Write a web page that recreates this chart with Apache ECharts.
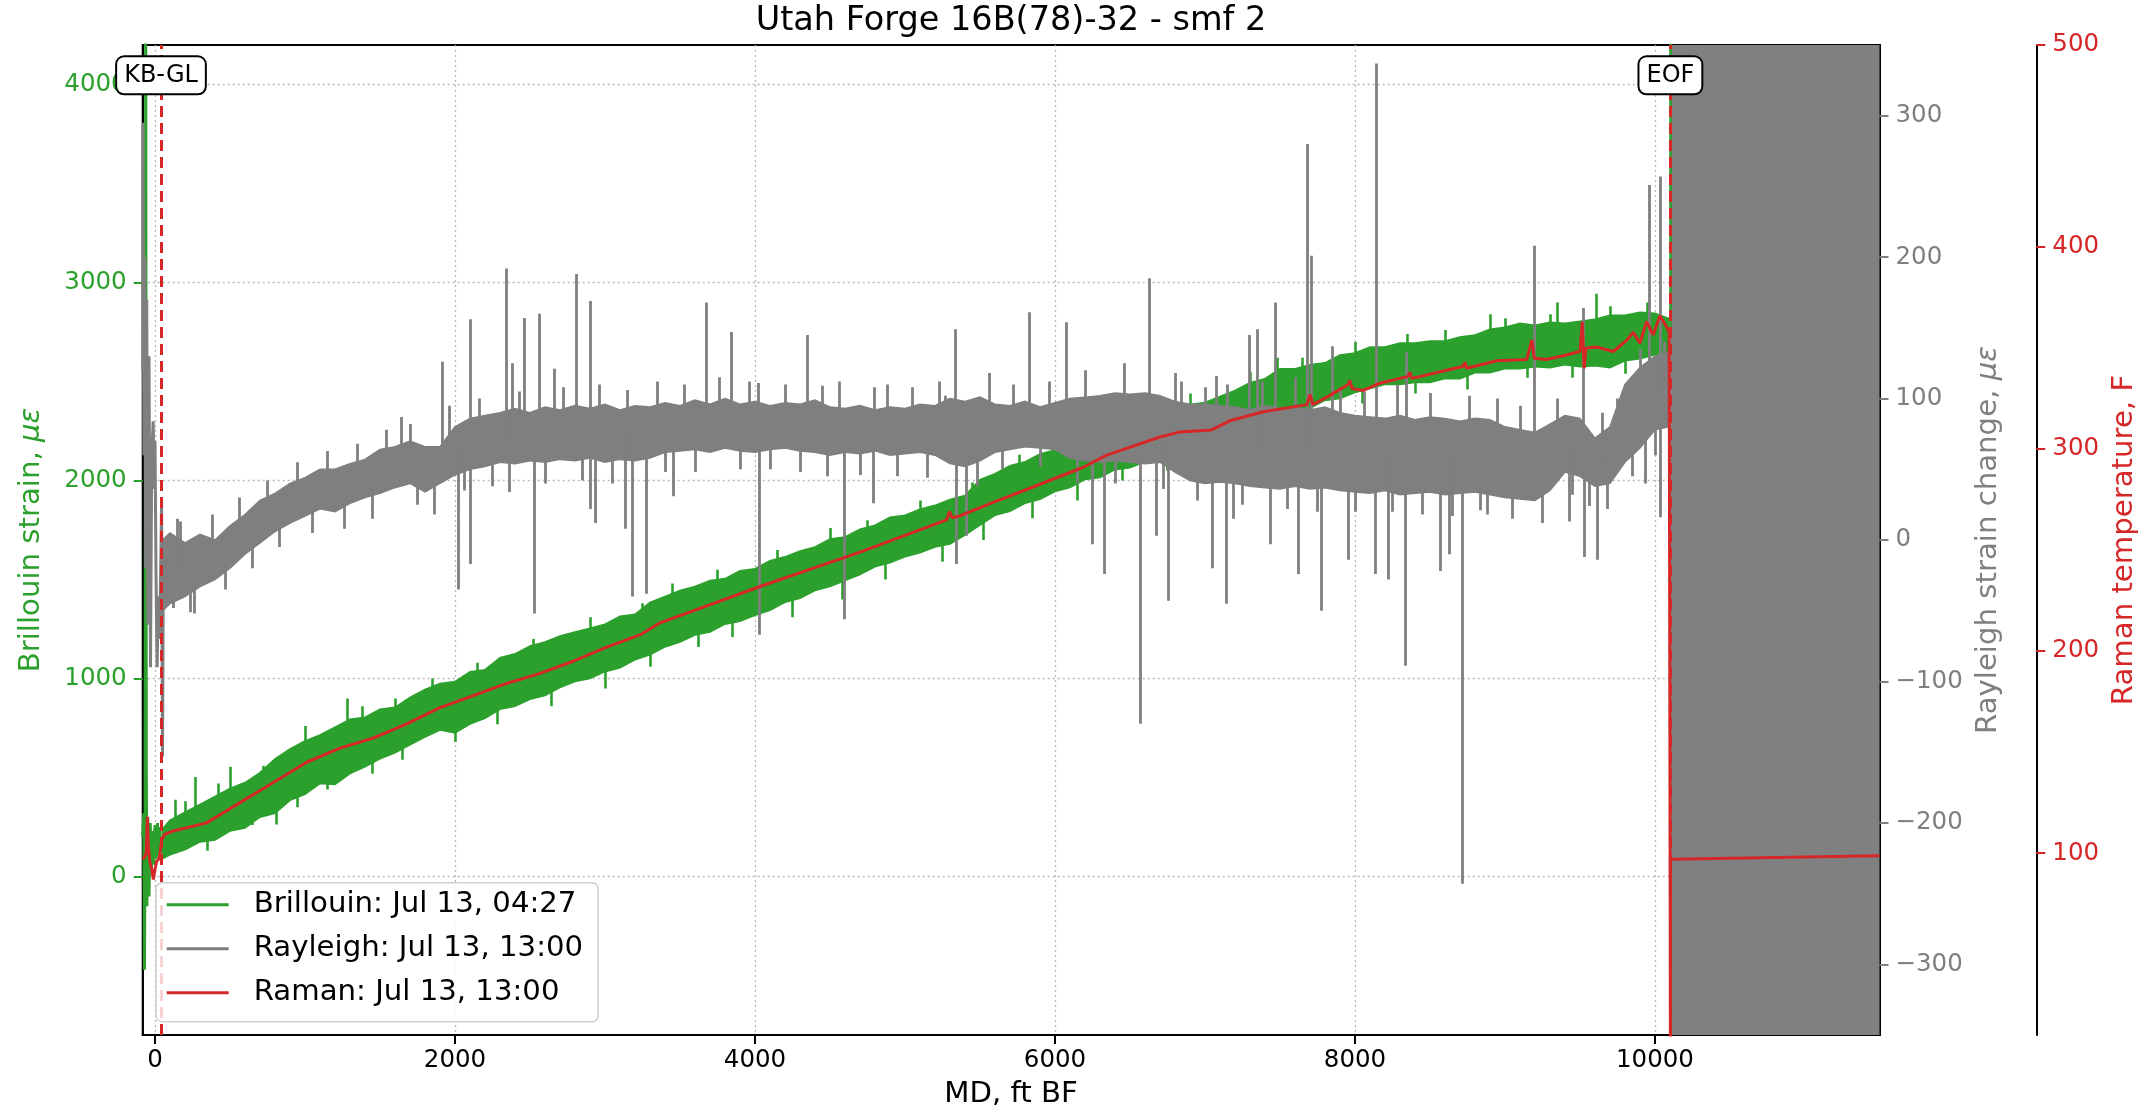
<!DOCTYPE html>
<html><head><meta charset="utf-8">
<script src="https://cdn.jsdelivr.net/npm/echarts@6/dist/echarts.min.js"></script>
<style>html,body{margin:0;padding:0;background:#fff}#chart{width:2152px;height:1114px}</style>
</head><body><div id="chart"></div>
<script>
// ---------- texts & ticks ----------
const TITLE = 'Utah Forge 16B(78)-32 - smf 2';
const NAME_BRILLOUIN = 'Brillouin: Jul 13, 04:27';
const NAME_RAYLEIGH = 'Rayleigh: Jul 13, 13:00';
const NAME_RAMAN = 'Raman: Jul 13, 13:00';
const X_TICKS = [0, 2000, 4000, 6000, 8000, 10000];
const BRILLOUIN_TICKS = [0, 1000, 2000, 3000, 4000];
const RAYLEIGH_TICKS = [-300, -200, -100, 0, 100, 200, 300];
const RAMAN_TICKS = [100, 200, 300, 400, 500];
const KB_GL_FT = 40;
const EOF_FT = 10103;

// ---------- data ----------
// sample depths (ft) for the dense noisy bands
const depthFt = [50,100,200,300,400,500,600,700,800,900,1000,1100,1200,1300,1400,1500,1600,1700,1800,1900,2000,2100,2200,2300,2400,2500,2600,2700,2800,2900,3000,3100,3200,3300,3400,3500,3600,3700,3800,3900,4000,4100,4200,4300,4400,4500,4600,4700,4800,4900,5000,5100,5200,5300,5400,5500,5600,5700,5800,5900,6000,6100,6200,6300,6400,6500,6600,6700,6800,6900,7000,7100,7200,7300,7400,7500,7600,7700,7800,7900,8000,8100,8200,8300,8400,8500,8600,8700,8800,8900,9000,9100,9200,9300,9400,9500,9600,9700,9800,9900,10000,10090];

// Brillouin strain band (lower / upper envelope, µε)
const brillouinLo = [90,110,135,175,185,230,245,300,320,385,415,470,465,520,555,595,625,665,705,740,725,770,800,845,860,895,915,955,985,1000,1035,1055,1095,1120,1160,1185,1220,1235,1275,1290,1320,1345,1385,1405,1445,1465,1495,1525,1565,1585,1615,1635,1665,1680,1725,1775,1825,1845,1885,1905,1945,1965,2005,2015,2055,2065,2095,2105,2155,2195,2225,2235,2265,2275,2305,2315,2355,2365,2405,2415,2445,2465,2485,2485,2495,2495,2515,2515,2545,2545,2565,2565,2575,2570,2585,2575,2580,2570,2605,2615,2635,2640];
const brillouinHi = [240,285,325,365,405,445,475,525,595,645,685,715,755,795,805,845,855,905,945,975,985,1035,1045,1105,1125,1165,1185,1215,1235,1255,1275,1315,1325,1385,1415,1445,1465,1495,1505,1545,1555,1595,1615,1645,1665,1705,1715,1755,1775,1815,1825,1855,1875,1905,1925,2005,2035,2075,2095,2135,2155,2185,2195,2225,2235,2265,2265,2295,2325,2385,2395,2425,2455,2495,2515,2565,2565,2585,2595,2635,2645,2675,2675,2695,2695,2705,2705,2725,2735,2765,2775,2795,2785,2800,2795,2805,2815,2835,2835,2850,2845,2820];
// Brillouin near KB-GL (depth, µε)
const brillouinTop = [[-82,200],[-75,320],[-70,-470],[-66,250],[-62,4500],[-58,580],[-54,-150],[-48,300],[-40,-100],[-32,270],[-24,40],[-16,230],[-8,60],[0,260],[8,90],[16,270],[24,110],[32,250],[40,120],[50,170]];
// Brillouin spikes (depth, tip µε)
const brillouinSpikes = [[133,388],[267,503],[500,555],[811,263],[1284,900],[7480,2620],[8900,2840],[9350,2900],[9611,2944],[EOF_FT,4500],
  [200,380],[350,130],[420,470],[650,260],[720,560],[950,350],[1000,760],[1150,440],[1380,860],[1450,520],[1600,900],[1650,590],[1850,1000],[2000,680],[2150,1080],[2280,770],[2520,1200],[2640,860],[2900,1310],[3000,950],[3250,1380],[3300,1060],[3450,1480],[3620,1160],[3750,1550],[3850,1210],[4150,1650],[4250,1310],[4500,1760],[4580,1400],[4750,1800],[4870,1500],[5100,1900],[5250,1590],[5450,1990],[5520,1700],[5760,2130],[5850,1810],[6050,2220],[6150,1900],[6350,2280],[6450,2000],[6650,2330],[6750,2050],[6900,2440],[7050,2180],[7300,2550],[7350,2220],[7650,2620],[7700,2320],[8000,2700],[8050,2390],[8350,2740],[8400,2440],[8600,2760],[8750,2460],[9000,2820],[9150,2520],[9300,2840],[9450,2520],[9700,2880],[9800,2540],[9950,2900],[10050,2580]];

// Rayleigh strain change band (lower / upper envelope, µε)
const rayleighLo = [-50,-45,-40,-33,-28,-20,-10,-2,6,12,17,22,20,26,30,33,37,40,34,40,46,50,52,55,54,56,55,57,56,58,55,57,56,58,62,63,64,62,65,63,62,64,65,63,62,60,62,61,63,60,61,62,60,54,52,56,62,64,66,65,64,58,56,55,56,55,54,55,48,42,40,41,40,38,37,36,38,36,37,35,34,33,35,32,33,34,32,33,34,32,30,29,28,35,48,45,38,40,55,65,78,80];
const rayleighHi = [0,5,-2,4,0,10,18,28,33,40,44,50,50,54,57,64,66,70,66,66,80,86,88,90,93,90,94,92,95,93,96,92,95,94,97,95,99,96,100,96,98,95,97,96,99,94,93,95,92,94,93,96,95,100,98,101,96,95,98,94,97,100,101,102,104,103,104,102,98,96,96,95,94,92,95,93,94,92,94,90,88,87,86,88,85,87,86,84,86,85,80,78,76,82,88,86,72,80,110,122,130,133];
// Rayleigh near KB-GL (depth, µε)
const rayleighTop = [[-82,120],[-80,295],[-74,60],[-68,200],[-62,-20],[-55,170],[-48,-60],[-40,130],[-30,-90],[-22,60],[-12,84],[-6,36],[0,70],[7,-26],[14,-90],[22,-40],[30,-70],[38,-20],[44,27],[50,-153],[56,-10],[62,-40],[70,-20]];
// Rayleigh spikes (depth, tip µε)
const rayleighSpikes = [[122,-48],[167,13],[233,-51],[1640,87],[1918,126],[2022,-35],[2100,156],[2105,-17],[2344,192],[2360,34],[2382,125],[2462,157],[2529,-52],[2562,160],[2662,121],[2806,188],[2900,169],[2905,22],[2933,12],[3133,8],[3184,-40],[3273,-38],[3456,31],[3674,168],[3845,147],[4022,111],[4026,-67],[4351,145],[4451,109],[4596,-56],[4789,26],[4795,108],[5267,102],[5338,149],[5342,-17],[5411,3],[5827,161],[6078,154],[6249,-3],[6329,-24],[6567,-130],[6627,185],[6678,3],[6756,-43],[6844,112],[7049,-20],[7077,116],[7144,-45],[7189,15],[7295,145],[7348,149],[7433,-3],[7466,168],[7622,-24],[7682,280],[7711,201],[7777,-50],[7851,137],[7955,-14],[8133,-24],[8144,337],[8222,-28],[8333,-89],[8344,133],[8566,-22],[8628,-10],[8717,-243],[8833,21],[9195,208],[9428,13],[9522,164],[9526,-12],[9615,-14],[9933,40],[9961,251],[10033,257],[10038,16],
  [150,15],[260,-52],[380,18],[470,-35],[560,30],[650,-20],[750,42],[830,-5],[950,55],[1050,5],[1150,63],[1260,8],[1350,68],[1450,15],[1540,78],[1700,82],[1750,25],[1860,18],[1960,95],[2060,35],[2160,100],[2250,38],[2430,105],[2600,40],[2720,108],[2850,42],[2960,110],[3050,40],[3150,106],[3350,112],[3400,48],[3530,110],[3600,48],[3760,115],[3900,50],[3960,112],[4100,50],[4200,110],[4300,48],[4480,45],[4560,112],[4700,46],[4880,110],[4950,45],[5050,108],[5150,44],[5230,112],[5480,38],[5560,118],[5650,50],[5720,110],[5900,52],[5960,112],[6150,40],[6200,120],[6400,40],[6460,125],[6720,36],[6800,118],[6950,28],[7000,108],[7150,110],[7250,25],[7380,112],[7550,22],[7600,115],[7750,20],[7900,108],[8000,20],[8060,105],[8250,20],[8280,110],[8450,18],[8500,104],[8650,17],[8760,102],[8880,18],[8950,100],[9050,15],[9100,95],[9250,12],[9350,100],[9450,32],[9560,24],[9650,90],[9680,22],[9750,100],[9850,45],[9900,135],[10000,60],[10060,140]];

// Raman temperature (depth ft, °F)
const ramanTemp = [[-82,97],[-70,98],[-58,100],[-51,118],[-45,104],[-35,96],[-22,92],[-11,87],[0,92],[11,96],[25,97],[33,100],[44,106],[60,109],[122,111],[344,115],[455,120],[567,125],[789,135],[1011,145],[1233,152],[1456,157],[1678,164],[1900,172],[2122,178],[2344,184],[2567,189],[2789,195],[3011,202],[3233,208],[3367,214],[4034,232],[4700,249],[5278,265],[5296,269],[5316,266],[5367,267],[5567,273],[5811,280],[6189,291],[6345,297],[6700,306],[6833,308.5],[7044,309.5],[7166,314],[7389,318.5],[7680,322],[7700,327],[7720,322],[7833,326.6],[7955,332],[7966,334],[7980,330],[8055,329],[8166,332.6],[8355,336],[8366,338],[8380,335],[8611,339],[8722,341],[8733,343],[8745,340],[8944,343.7],[9144,344.3],[9180,354],[9195,345],[9277,344.3],[9388,346.2],[9500,348.3],[9515,363],[9528,340],[9540,350],[9611,350.5],[9722,348.3],[9811,353.8],[9855,357.8],[9900,352.4],[9944,363.2],[9988,356.5],[10033,366],[10077,360.5],[10095,358],[10103,0],[10104,97],[11497,98.7]];

// ---------- styling ----------
const FONT = 'DejaVu Sans';
const GREEN = '#2ca02c', GRAY = '#7f7f7f', RED = '#d62728';
const GRID_LINE = {show: true, lineStyle: {color: '#b8b8b8', width: 1.3, type: [2, 3]}};
const fmtTick = v => (v < 0 ? '\u2212' + Math.abs(v) : String(v));

function bandMid(depths, lo, hi, d) {
  let best = 0;
  for (let i = 1; i < depths.length; i++) if (Math.abs(depths[i] - d) < Math.abs(depths[best] - d)) best = i;
  return (lo[best] + hi[best]) / 2;
}
function bandRenderer(depths, lo, hi, color) {
  return function (params, api) {
    const pts = [];
    for (let i = 0; i < depths.length; i++) pts.push(api.coord([depths[i], hi[i]]));
    for (let i = depths.length - 1; i >= 0; i--) pts.push(api.coord([depths[i], lo[i]]));
    return {type: 'polygon', shape: {points: pts}, style: {fill: color, stroke: color, lineWidth: 1.5}};
  };
}
function spikeData(spikes, depths, lo, hi) {
  return spikes.map(([d, t]) => ({coords: [[d, bandMid(depths, lo, hi, d)], [d, t]]}));
}
function yAxisBase(color, ticks, min, max) {
  return {
    type: 'value', min: min, max: max,
    axisLine: {show: true, onZero: false, lineStyle: {color: '#000', width: 2}},
    axisTick: {show: true, customValues: ticks, length: 9, lineStyle: {color: color, width: 2}},
    axisLabel: {customValues: ticks, color: color, fontSize: 24.5, fontFamily: FONT, formatter: fmtTick, margin: 16},
    nameLocation: 'middle', nameRotate: 90,
    nameTextStyle: {color: color, fontSize: 29.2, fontFamily: FONT,
      rich: {i: {color: color, fontSize: 29.2, fontFamily: FONT, fontStyle: 'italic'}}}
  };
}

const chart = echarts.init(document.getElementById('chart'), null, {renderer: 'canvas'});
const option = {
  animation: false,
  backgroundColor: '#fff',
  grid: {left: 142.7, right: 272.5, top: 45, bottom: 77.3, show: true, borderColor: '#000', borderWidth: 2, backgroundColor: 'transparent'},
  graphic: [{type: 'text', x: 1011, y: 21.5, z: 10,
    style: {text: TITLE, fontSize: 33.5, fontFamily: FONT, fill: '#000', textAlign: 'center', textVerticalAlign: 'middle'}}],
  legend: {
    left: 156, top: 882.7, orient: 'vertical', z: 20, selectedMode: false,
    backgroundColor: 'rgba(255,255,255,0.8)', borderColor: '#cfcfcf', borderWidth: 1.5, borderRadius: 6,
    padding: [7, 15, 14, 10.7], itemGap: 14, itemWidth: 62, itemHeight: 3,
    data: [{name: NAME_BRILLOUIN, icon: 'rect'}, {name: NAME_RAYLEIGH, icon: 'rect'}, {name: NAME_RAMAN, icon: 'rect'}],
    formatter: n => '{t|' + n + '}',
    textStyle: {fontSize: 29.2, fontFamily: FONT, color: '#000', lineHeight: 30,
      rich: {t: {fontSize: 29.2, fontFamily: FONT, color: '#000', lineHeight: 30, padding: [0, 0, 0, 20]}}}
  },
  xAxis: {
    type: 'value', min: -82, max: 11497, position: 'bottom',
    axisLine: {show: true, onZero: false, lineStyle: {color: '#000', width: 2}},
    axisTick: {show: true, customValues: X_TICKS, length: 9, lineStyle: {color: '#000', width: 2}},
    axisLabel: {customValues: X_TICKS, color: '#000', fontSize: 24.5, fontFamily: FONT, margin: 13, formatter: fmtTick},
    splitLine: GRID_LINE,
    name: 'MD, ft BF', nameLocation: 'middle', nameGap: 45,
    nameTextStyle: {color: '#000', fontSize: 29.2, fontFamily: FONT}
  },
  yAxis: [
    Object.assign(yAxisBase(GREEN, BRILLOUIN_TICKS, -800, 4200), {
      position: 'left', name: 'Brillouin strain, {i|με}', nameGap: 97, splitLine: GRID_LINE}),
    Object.assign(yAxisBase(GRAY, RAYLEIGH_TICKS, -350, 350), {
      position: 'right', offset: 0, name: 'Rayleigh strain change, {i|με}', nameGap: 92, splitLine: {show: false}}),
    Object.assign(yAxisBase(RED, RAMAN_TICKS, 10, 500), {
      position: 'right', offset: 156.8, name: 'Raman temperature, F', nameGap: 65, splitLine: {show: false}})
  ],
  series: [
    {type: 'custom', name: 'brillouin-band', xAxisIndex: 0, yAxisIndex: 0, z: 2, clip: true, silent: true,
      data: [[depthFt[0], brillouinLo[0]]], renderItem: bandRenderer(depthFt, brillouinLo, brillouinHi, GREEN)},
    {type: 'lines', name: 'brillouin-spikes', coordinateSystem: 'cartesian2d', xAxisIndex: 0, yAxisIndex: 0, z: 2, silent: true,
      lineStyle: {color: GREEN, width: 2.6, opacity: 1}, data: spikeData(brillouinSpikes, depthFt, brillouinLo, brillouinHi)},
    {type: 'line', name: NAME_BRILLOUIN, color: GREEN, xAxisIndex: 0, yAxisIndex: 0, z: 2, symbol: 'none', clip: true,
      lineStyle: {color: GREEN, width: 3}, data: brillouinTop},

    {type: 'custom', name: 'rayleigh-band', xAxisIndex: 0, yAxisIndex: 1, z: 3, clip: true, silent: true,
      data: [[depthFt[0], rayleighLo[0]]], renderItem: bandRenderer(depthFt, rayleighLo, rayleighHi, GRAY)},
    {type: 'lines', name: 'rayleigh-spikes', coordinateSystem: 'cartesian2d', xAxisIndex: 0, yAxisIndex: 1, z: 3, silent: true,
      lineStyle: {color: GRAY, width: 2.8, opacity: 1}, data: spikeData(rayleighSpikes, depthFt, rayleighLo, rayleighHi)},
    {type: 'line', name: NAME_RAYLEIGH, color: GRAY, xAxisIndex: 0, yAxisIndex: 1, z: 3, symbol: 'none', clip: true,
      lineStyle: {color: GRAY, width: 3}, data: rayleighTop},

    {type: 'line', name: NAME_RAMAN, color: RED, xAxisIndex: 0, yAxisIndex: 2, z: 4, symbol: 'none', clip: true,
      lineStyle: {color: RED, width: 3}, data: ramanTemp,
      markArea: {silent: true, itemStyle: {color: '#808080', opacity: 1}, data: [[{xAxis: EOF_FT}, {xAxis: 11497}]]},
      markLine: {silent: true, symbol: ['none', 'none'], label: {show: false},
        lineStyle: {color: RED, width: 3, type: [11, 6]}, data: [{xAxis: KB_GL_FT}, {xAxis: EOF_FT}]},
      markPoint: {silent: true, symbol: 'rect', symbolSize: [1, 1], itemStyle: {color: 'rgba(0,0,0,0)'},
        label: {show: true, position: 'inside', formatter: '{b}', fontSize: 24, fontFamily: FONT, color: '#000',
          backgroundColor: '#fff', borderColor: '#000', borderWidth: 2, borderRadius: 7, padding: [6, 7], lineHeight: 24},
        data: [{name: 'KB-GL', coord: [KB_GL_FT, 485]}, {name: 'EOF', coord: [EOF_FT, 485]}]}
    }
  ]
};
chart.setOption(option);
</script></body></html>
